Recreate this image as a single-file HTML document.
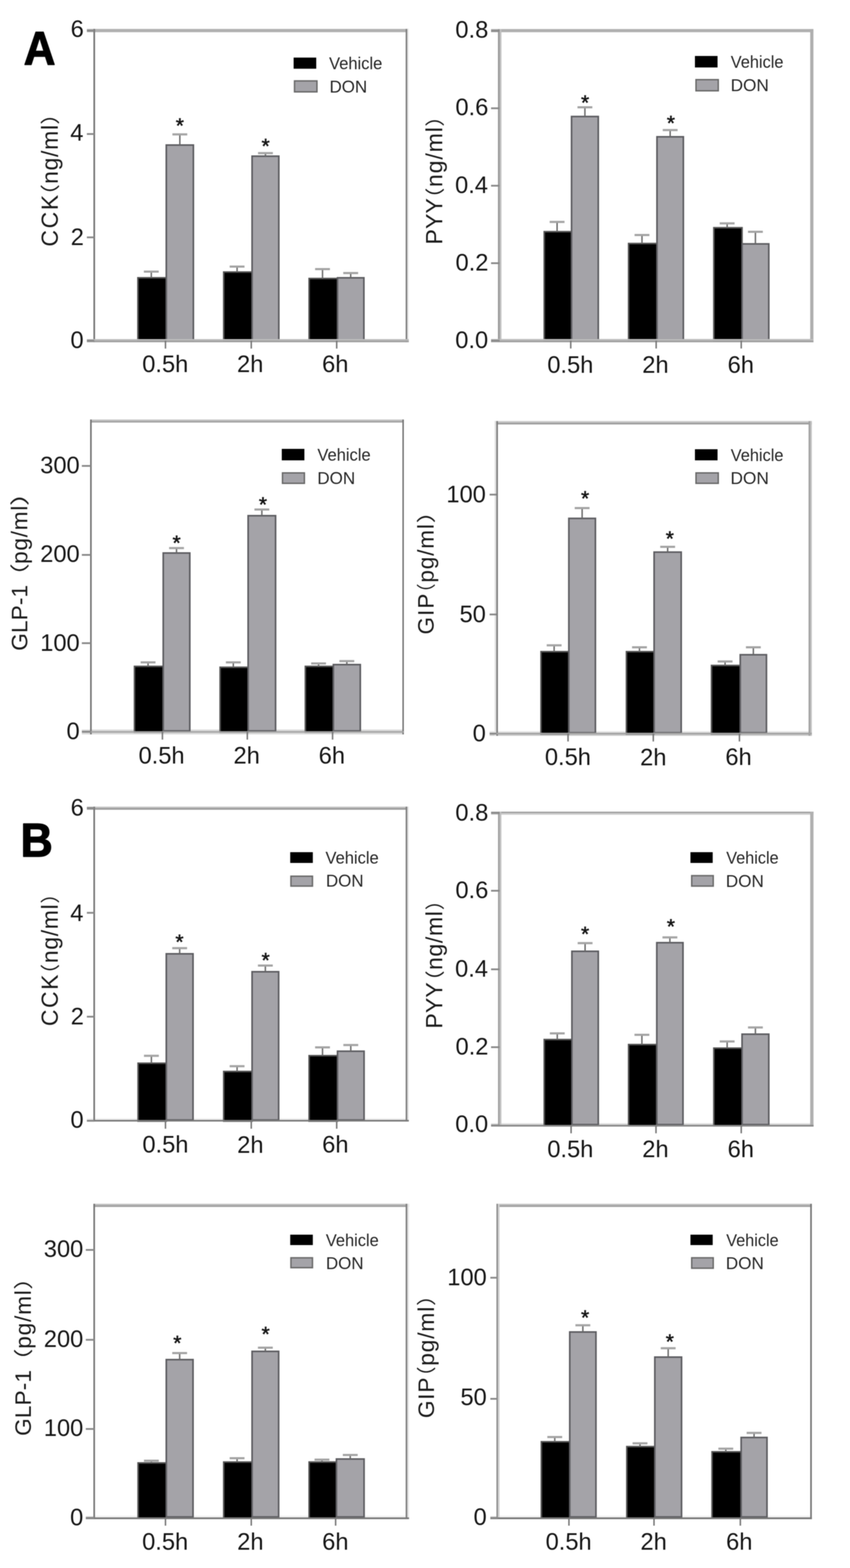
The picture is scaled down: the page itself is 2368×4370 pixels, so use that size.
<!DOCTYPE html>
<html><head><meta charset="utf-8"><title>Figure</title>
<style>html,body{margin:0;padding:0;background:#fff;}svg{display:block;}</style>
</head><body>
<svg width="2368" height="4370" viewBox="0 0 2368 4370" font-family="'Liberation Sans', Arial, Helvetica, sans-serif">
<defs><filter id="soft" filterUnits="userSpaceOnUse" x="0" y="0" width="2368" height="4370" color-interpolation-filters="sRGB"><feGaussianBlur stdDeviation="1.20"/></filter></defs><rect width="2368" height="4370" fill="#fff"/>
<g filter="url(#soft)">
<rect x="242.00" y="80.60" width="897.00" height="9.10" fill="#b0b0b0"/>
<rect x="242.00" y="945.00" width="897.00" height="4.40" fill="#bdbdbd"/>
<rect x="242.00" y="949.40" width="897.00" height="4.30" fill="#a0a0a0"/>
<rect x="260.20" y="80.60" width="4.70" height="873.10" fill="#777777"/>
<rect x="1130.10" y="80.60" width="4.70" height="873.10" fill="#808080"/>
<rect x="1134.80" y="80.60" width="4.20" height="873.10" fill="#ececec"/>
<rect x="384.20" y="774.20" width="79.00" height="176.10" fill="#000" stroke="#545454" stroke-width="4.40"/>
<rect x="463.25" y="404.25" width="75.50" height="543.00" fill="#a4a3a8" stroke="#5d5d61" stroke-width="4.50"/>
<rect x="623.20" y="758.20" width="79.00" height="192.10" fill="#000" stroke="#545454" stroke-width="4.40"/>
<rect x="702.25" y="435.25" width="74.50" height="512.00" fill="#a4a3a8" stroke="#5d5d61" stroke-width="4.50"/>
<rect x="861.20" y="776.20" width="79.00" height="174.10" fill="#000" stroke="#545454" stroke-width="4.40"/>
<rect x="940.25" y="774.25" width="73.50" height="173.00" fill="#a4a3a8" stroke="#5d5d61" stroke-width="4.50"/>
<line x1="421.50" y1="774.00" x2="421.50" y2="757.00" stroke="#6a6a6a" stroke-width="4.00"/>
<line x1="400.80" y1="757.00" x2="442.20" y2="757.00" stroke="#a4a4a4" stroke-width="6.00"/>
<line x1="501.00" y1="404.00" x2="501.00" y2="374.50" stroke="#6a6a6a" stroke-width="4.00"/>
<line x1="480.30" y1="374.50" x2="521.70" y2="374.50" stroke="#a4a4a4" stroke-width="6.00"/>
<line x1="660.50" y1="758.00" x2="660.50" y2="743.00" stroke="#6a6a6a" stroke-width="4.00"/>
<line x1="639.80" y1="743.00" x2="681.20" y2="743.00" stroke="#a4a4a4" stroke-width="6.00"/>
<line x1="739.50" y1="435.00" x2="739.50" y2="426.70" stroke="#6a6a6a" stroke-width="4.00"/>
<line x1="718.80" y1="426.70" x2="760.20" y2="426.70" stroke="#a4a4a4" stroke-width="6.00"/>
<line x1="898.50" y1="776.00" x2="898.50" y2="750.00" stroke="#6a6a6a" stroke-width="4.00"/>
<line x1="877.80" y1="750.00" x2="919.20" y2="750.00" stroke="#a4a4a4" stroke-width="6.00"/>
<line x1="977.00" y1="774.00" x2="977.00" y2="761.00" stroke="#6a6a6a" stroke-width="4.00"/>
<line x1="956.30" y1="761.00" x2="997.70" y2="761.00" stroke="#a4a4a4" stroke-width="6.00"/>
<rect x="242.00" y="945.00" width="897.00" height="4.40" fill="#bdbdbd"/>
<rect x="242.00" y="949.40" width="897.00" height="4.30" fill="#a0a0a0"/>
<line x1="242.00" y1="85.50" x2="262.50" y2="85.50" stroke="#8a8a8a" stroke-width="5.00"/>
<line x1="242.00" y1="373.50" x2="262.50" y2="373.50" stroke="#8a8a8a" stroke-width="5.00"/>
<line x1="242.00" y1="661.50" x2="262.50" y2="661.50" stroke="#8a8a8a" stroke-width="5.00"/>
<line x1="242.00" y1="949.50" x2="262.50" y2="949.50" stroke="#8a8a8a" stroke-width="5.00"/>
<line x1="461.00" y1="949.50" x2="461.00" y2="971.50" stroke="#787878" stroke-width="4.20"/>
<line x1="700.00" y1="949.50" x2="700.00" y2="971.50" stroke="#787878" stroke-width="4.20"/>
<line x1="938.00" y1="949.50" x2="938.00" y2="971.50" stroke="#787878" stroke-width="4.20"/>
<text x="196.69" y="102.72" font-size="66.00" fill="#151515">6</text>
<text x="195.73" y="392.20" font-size="66.00" fill="#151515">4</text>
<text x="197.11" y="683.04" font-size="66.00" fill="#151515">2</text>
<text x="196.37" y="969.72" font-size="66.00" fill="#151515">0</text>
<text x="396.13" y="1037.09" font-size="66.00" fill="#151515">0.5h</text>
<text x="660.28" y="1037.41" font-size="66.00" fill="#151515">2h</text>
<text x="897.26" y="1037.09" font-size="66.00" fill="#151515">6h</text>
<text x="489.70" y="369.72" font-size="58.00" fill="#151515" stroke="#151515" stroke-width="1.4">*</text>
<text x="728.70" y="427.47" font-size="58.00" fill="#151515" stroke="#151515" stroke-width="1.4">*</text>
<rect x="818.00" y="160.50" width="63.00" height="31.00" fill="#000"/>
<rect x="820.50" y="225.50" width="62.50" height="30.50" fill="#a4a3a8" stroke="#6a6a6a" stroke-width="4.00"/>
<text x="916.78" y="193.01" font-size="49.00" fill="#262626" textLength="148.39" lengthAdjust="spacingAndGlyphs">Vehicle</text>
<text x="917.98" y="257.62" font-size="49.00" fill="#262626" textLength="105.02" lengthAdjust="spacingAndGlyphs">DON</text>
<text transform="translate(160.60 687.25) rotate(-90)" x="0" y="0" font-size="63.95" fill="#1a1a1a" textLength="144.07" lengthAdjust="spacing">CCK</text>
<text transform="translate(160.60 512.55) rotate(-90)" x="0" y="0" font-size="63.95" fill="#1a1a1a" textLength="164.43" lengthAdjust="spacing">ng/ml</text>
<text transform="translate(159.36 577.41) rotate(-90)" x="0" y="0" font-family="'Liberation Sans', 'Noto Sans CJK SC', sans-serif" font-size="54.62" fill="#1a1a1a" textLength="64.48" lengthAdjust="spacingAndGlyphs">（</text>
<text transform="translate(159.36 347.62) rotate(-90)" x="0" y="0" font-family="'Liberation Sans', 'Noto Sans CJK SC', sans-serif" font-size="54.62" fill="#1a1a1a" textLength="61.39" lengthAdjust="spacingAndGlyphs">）</text>
<rect x="1368.00" y="80.90" width="898.10" height="8.90" fill="#b0b0b0"/>
<rect x="1368.00" y="944.80" width="898.10" height="4.50" fill="#bdbdbd"/>
<rect x="1368.00" y="949.30" width="898.10" height="4.50" fill="#a0a0a0"/>
<rect x="1387.20" y="80.90" width="4.80" height="872.90" fill="#999999"/>
<rect x="1392.00" y="80.90" width="4.90" height="872.90" fill="#c0c0c0"/>
<rect x="2257.10" y="80.90" width="9.00" height="872.90" fill="#afafaf"/>
<rect x="1516.20" y="645.70" width="76.00" height="304.40" fill="#000" stroke="#545454" stroke-width="4.40"/>
<rect x="1592.25" y="324.75" width="74.50" height="622.30" fill="#a4a3a8" stroke="#5d5d61" stroke-width="4.50"/>
<rect x="1751.20" y="678.70" width="79.00" height="271.40" fill="#000" stroke="#545454" stroke-width="4.40"/>
<rect x="1830.25" y="381.25" width="73.50" height="565.80" fill="#a4a3a8" stroke="#5d5d61" stroke-width="4.50"/>
<rect x="1988.70" y="634.70" width="78.50" height="315.40" fill="#000" stroke="#545454" stroke-width="4.40"/>
<rect x="2067.25" y="679.75" width="74.50" height="267.30" fill="#a4a3a8" stroke="#5d5d61" stroke-width="4.50"/>
<line x1="1552.00" y1="645.50" x2="1552.00" y2="618.50" stroke="#6a6a6a" stroke-width="4.00"/>
<line x1="1531.30" y1="618.50" x2="1572.70" y2="618.50" stroke="#a4a4a4" stroke-width="6.00"/>
<line x1="1629.50" y1="324.50" x2="1629.50" y2="299.00" stroke="#6a6a6a" stroke-width="4.00"/>
<line x1="1608.80" y1="299.00" x2="1650.20" y2="299.00" stroke="#a4a4a4" stroke-width="6.00"/>
<line x1="1788.50" y1="678.50" x2="1788.50" y2="655.00" stroke="#6a6a6a" stroke-width="4.00"/>
<line x1="1767.80" y1="655.00" x2="1809.20" y2="655.00" stroke="#a4a4a4" stroke-width="6.00"/>
<line x1="1867.00" y1="381.00" x2="1867.00" y2="362.50" stroke="#6a6a6a" stroke-width="4.00"/>
<line x1="1846.30" y1="362.50" x2="1887.70" y2="362.50" stroke="#a4a4a4" stroke-width="6.00"/>
<line x1="2025.75" y1="634.50" x2="2025.75" y2="622.50" stroke="#6a6a6a" stroke-width="4.00"/>
<line x1="2005.05" y1="622.50" x2="2046.45" y2="622.50" stroke="#a4a4a4" stroke-width="6.00"/>
<line x1="2104.50" y1="679.50" x2="2104.50" y2="646.00" stroke="#6a6a6a" stroke-width="4.00"/>
<line x1="2083.80" y1="646.00" x2="2125.20" y2="646.00" stroke="#a4a4a4" stroke-width="6.00"/>
<rect x="1368.00" y="944.80" width="898.10" height="4.50" fill="#bdbdbd"/>
<rect x="1368.00" y="949.30" width="898.10" height="4.50" fill="#a0a0a0"/>
<line x1="1368.00" y1="86.00" x2="1392.00" y2="86.00" stroke="#8a8a8a" stroke-width="5.00"/>
<line x1="1368.00" y1="301.80" x2="1392.00" y2="301.80" stroke="#8a8a8a" stroke-width="5.00"/>
<line x1="1368.00" y1="517.60" x2="1392.00" y2="517.60" stroke="#8a8a8a" stroke-width="5.00"/>
<line x1="1368.00" y1="733.50" x2="1392.00" y2="733.50" stroke="#8a8a8a" stroke-width="5.00"/>
<line x1="1368.00" y1="949.30" x2="1392.00" y2="949.30" stroke="#8a8a8a" stroke-width="5.00"/>
<line x1="1590.00" y1="949.30" x2="1590.00" y2="971.30" stroke="#787878" stroke-width="4.20"/>
<line x1="1828.00" y1="949.30" x2="1828.00" y2="971.30" stroke="#787878" stroke-width="4.20"/>
<line x1="2065.00" y1="949.30" x2="2065.00" y2="971.30" stroke="#787878" stroke-width="4.20"/>
<text x="1268.62" y="105.22" font-size="66.00" fill="#151515">0.8</text>
<text x="1268.65" y="321.47" font-size="66.00" fill="#151515">0.6</text>
<text x="1267.68" y="537.72" font-size="66.00" fill="#151515">0.4</text>
<text x="1269.07" y="753.97" font-size="66.00" fill="#151515">0.2</text>
<text x="1268.33" y="970.22" font-size="66.00" fill="#151515">0.0</text>
<text x="1524.63" y="1038.59" font-size="66.00" fill="#151515">0.5h</text>
<text x="1789.28" y="1038.91" font-size="66.00" fill="#151515">2h</text>
<text x="2027.01" y="1038.59" font-size="66.00" fill="#151515">6h</text>
<text x="1618.70" y="305.97" font-size="58.00" fill="#151515" stroke="#151515" stroke-width="1.4">*</text>
<text x="1857.70" y="363.47" font-size="58.00" fill="#151515" stroke="#151515" stroke-width="1.4">*</text>
<rect x="1936.00" y="156.00" width="63.00" height="32.00" fill="#000"/>
<rect x="1939.00" y="222.00" width="62.00" height="31.00" fill="#a4a3a8" stroke="#6a6a6a" stroke-width="4.00"/>
<text x="2035.78" y="189.26" font-size="49.00" fill="#262626" textLength="146.89" lengthAdjust="spacingAndGlyphs">Vehicle</text>
<text x="2035.48" y="254.37" font-size="49.00" fill="#262626" textLength="106.52" lengthAdjust="spacingAndGlyphs">DON</text>
<text transform="translate(1231.90 681.47) rotate(-90)" x="0" y="0" font-size="64.24" fill="#1a1a1a" textLength="129.08" lengthAdjust="spacing">PYY</text>
<text transform="translate(1231.90 521.17) rotate(-90)" x="0" y="0" font-size="64.24" fill="#1a1a1a" textLength="167.06" lengthAdjust="spacing">ng/ml</text>
<text transform="translate(1230.64 582.52) rotate(-90)" x="0" y="0" font-family="'Liberation Sans', 'Noto Sans CJK SC', sans-serif" font-size="54.83" fill="#1a1a1a" textLength="59.46" lengthAdjust="spacingAndGlyphs">（</text>
<text transform="translate(1230.64 352.94) rotate(-90)" x="0" y="0" font-family="'Liberation Sans', 'Noto Sans CJK SC', sans-serif" font-size="54.83" fill="#1a1a1a" textLength="59.46" lengthAdjust="spacingAndGlyphs">）</text>
<rect x="251.00" y="1169.20" width="874.10" height="4.30" fill="#c0c0c0"/>
<rect x="251.00" y="1173.50" width="874.10" height="4.00" fill="#9c9c9c"/>
<rect x="228.00" y="2033.20" width="897.10" height="4.60" fill="#d8d8d8"/>
<rect x="228.00" y="2037.80" width="897.10" height="4.00" fill="#a4a4a4"/>
<rect x="228.00" y="2041.80" width="897.10" height="4.90" fill="#d8d8d8"/>
<rect x="251.00" y="1169.20" width="4.50" height="877.50" fill="#747474"/>
<rect x="1121.00" y="1169.20" width="4.10" height="877.50" fill="#747474"/>
<rect x="374.70" y="1857.20" width="80.00" height="182.90" fill="#000" stroke="#545454" stroke-width="4.40"/>
<rect x="454.75" y="1541.25" width="74.00" height="495.80" fill="#a4a3a8" stroke="#5d5d61" stroke-width="4.50"/>
<rect x="613.20" y="1859.70" width="78.00" height="180.40" fill="#000" stroke="#545454" stroke-width="4.40"/>
<rect x="691.25" y="1437.25" width="76.50" height="599.80" fill="#a4a3a8" stroke="#5d5d61" stroke-width="4.50"/>
<rect x="850.70" y="1857.20" width="78.00" height="182.90" fill="#000" stroke="#545454" stroke-width="4.40"/>
<rect x="928.75" y="1852.25" width="75.00" height="184.80" fill="#a4a3a8" stroke="#5d5d61" stroke-width="4.50"/>
<line x1="412.50" y1="1857.00" x2="412.50" y2="1846.00" stroke="#6a6a6a" stroke-width="4.00"/>
<line x1="391.80" y1="1846.00" x2="433.20" y2="1846.00" stroke="#a4a4a4" stroke-width="6.00"/>
<line x1="491.75" y1="1541.00" x2="491.75" y2="1527.50" stroke="#6a6a6a" stroke-width="4.00"/>
<line x1="471.05" y1="1527.50" x2="512.45" y2="1527.50" stroke="#a4a4a4" stroke-width="6.00"/>
<line x1="650.00" y1="1859.50" x2="650.00" y2="1846.00" stroke="#6a6a6a" stroke-width="4.00"/>
<line x1="629.30" y1="1846.00" x2="670.70" y2="1846.00" stroke="#a4a4a4" stroke-width="6.00"/>
<line x1="729.50" y1="1437.00" x2="729.50" y2="1420.00" stroke="#6a6a6a" stroke-width="4.00"/>
<line x1="708.80" y1="1420.00" x2="750.20" y2="1420.00" stroke="#a4a4a4" stroke-width="6.00"/>
<line x1="887.50" y1="1857.00" x2="887.50" y2="1849.00" stroke="#6a6a6a" stroke-width="4.00"/>
<line x1="866.80" y1="1849.00" x2="908.20" y2="1849.00" stroke="#a4a4a4" stroke-width="6.00"/>
<line x1="966.25" y1="1852.00" x2="966.25" y2="1842.50" stroke="#6a6a6a" stroke-width="4.00"/>
<line x1="945.55" y1="1842.50" x2="986.95" y2="1842.50" stroke="#a4a4a4" stroke-width="6.00"/>
<rect x="228.00" y="2037.80" width="897.10" height="4.00" fill="#a4a4a4"/>
<line x1="228.00" y1="1298.50" x2="253.20" y2="1298.50" stroke="#8a8a8a" stroke-width="5.00"/>
<line x1="228.00" y1="1546.50" x2="253.20" y2="1546.50" stroke="#8a8a8a" stroke-width="5.00"/>
<line x1="228.00" y1="1792.50" x2="253.20" y2="1792.50" stroke="#8a8a8a" stroke-width="5.00"/>
<line x1="228.00" y1="2039.30" x2="253.20" y2="2039.30" stroke="#8a8a8a" stroke-width="5.00"/>
<line x1="452.50" y1="2039.30" x2="452.50" y2="2061.30" stroke="#787878" stroke-width="4.20"/>
<line x1="689.00" y1="2039.30" x2="689.00" y2="2061.30" stroke="#787878" stroke-width="4.20"/>
<line x1="926.50" y1="2039.30" x2="926.50" y2="2061.30" stroke="#787878" stroke-width="4.20"/>
<text x="111.96" y="1318.97" font-size="66.00" fill="#151515">300</text>
<text x="111.96" y="1566.47" font-size="66.00" fill="#151515">200</text>
<text x="111.96" y="1813.72" font-size="66.00" fill="#151515">100</text>
<text x="185.37" y="2060.22" font-size="66.00" fill="#151515">0</text>
<text x="385.88" y="2128.09" font-size="66.00" fill="#151515">0.5h</text>
<text x="650.53" y="2128.41" font-size="66.00" fill="#151515">2h</text>
<text x="887.76" y="2128.09" font-size="66.00" fill="#151515">6h</text>
<text x="480.70" y="1532.72" font-size="58.00" fill="#151515" stroke="#151515" stroke-width="1.4">*</text>
<text x="721.20" y="1425.97" font-size="58.00" fill="#151515" stroke="#151515" stroke-width="1.4">*</text>
<rect x="785.00" y="1251.00" width="63.00" height="32.00" fill="#000"/>
<rect x="787.00" y="1318.00" width="61.00" height="29.00" fill="#a4a3a8" stroke="#6a6a6a" stroke-width="4.00"/>
<text x="884.28" y="1284.26" font-size="49.00" fill="#262626" textLength="148.39" lengthAdjust="spacingAndGlyphs">Vehicle</text>
<text x="883.98" y="1349.37" font-size="49.00" fill="#262626" textLength="105.52" lengthAdjust="spacingAndGlyphs">DON</text>
<text transform="translate(76.00 1813.68) rotate(-90)" x="0" y="0" font-size="63.23" fill="#1a1a1a" textLength="183.67" lengthAdjust="spacing">GLP-1</text>
<text transform="translate(76.00 1571.68) rotate(-90)" x="0" y="0" font-size="63.23" fill="#1a1a1a" textLength="162.40" lengthAdjust="spacing">pg/ml</text>
<text transform="translate(74.81 1641.07) rotate(-90)" x="0" y="0" font-family="'Liberation Sans', 'Noto Sans CJK SC', sans-serif" font-size="54.10" fill="#1a1a1a" textLength="71.04" lengthAdjust="spacingAndGlyphs">（</text>
<text transform="translate(74.81 1410.49) rotate(-90)" x="0" y="0" font-family="'Liberation Sans', 'Noto Sans CJK SC', sans-serif" font-size="54.10" fill="#1a1a1a" textLength="77.99" lengthAdjust="spacingAndGlyphs">）</text>
<rect x="1378.00" y="1173.50" width="883.60" height="4.50" fill="#c8c8c8"/>
<rect x="1378.00" y="1178.00" width="883.60" height="5.00" fill="#a0a0a0"/>
<rect x="1364.00" y="2037.80" width="897.60" height="4.30" fill="#e4e4e4"/>
<rect x="1364.00" y="2042.10" width="897.60" height="4.60" fill="#a4a4a4"/>
<rect x="1364.00" y="2046.70" width="897.60" height="4.00" fill="#c8c8c8"/>
<rect x="1378.00" y="1173.50" width="4.70" height="877.20" fill="#e0e0e0"/>
<rect x="1382.70" y="1173.50" width="4.50" height="877.20" fill="#7c7c7c"/>
<rect x="2252.60" y="1173.50" width="4.40" height="877.20" fill="#a0a0a0"/>
<rect x="2257.00" y="1173.50" width="4.60" height="877.20" fill="#c0c0c0"/>
<rect x="1507.20" y="1816.20" width="77.50" height="229.10" fill="#000" stroke="#545454" stroke-width="4.40"/>
<rect x="1584.75" y="1444.75" width="74.00" height="597.50" fill="#a4a3a8" stroke="#5d5d61" stroke-width="4.50"/>
<rect x="1745.20" y="1816.20" width="77.00" height="229.10" fill="#000" stroke="#545454" stroke-width="4.40"/>
<rect x="1822.25" y="1538.75" width="75.50" height="503.50" fill="#a4a3a8" stroke="#5d5d61" stroke-width="4.50"/>
<rect x="1982.20" y="1854.70" width="80.00" height="190.60" fill="#000" stroke="#545454" stroke-width="4.40"/>
<rect x="2062.25" y="1824.75" width="73.00" height="217.50" fill="#a4a3a8" stroke="#5d5d61" stroke-width="4.50"/>
<line x1="1543.75" y1="1816.00" x2="1543.75" y2="1798.50" stroke="#6a6a6a" stroke-width="4.00"/>
<line x1="1523.05" y1="1798.50" x2="1564.45" y2="1798.50" stroke="#a4a4a4" stroke-width="6.00"/>
<line x1="1621.75" y1="1444.50" x2="1621.75" y2="1416.00" stroke="#6a6a6a" stroke-width="4.00"/>
<line x1="1601.05" y1="1416.00" x2="1642.45" y2="1416.00" stroke="#a4a4a4" stroke-width="6.00"/>
<line x1="1781.50" y1="1816.00" x2="1781.50" y2="1804.00" stroke="#6a6a6a" stroke-width="4.00"/>
<line x1="1760.80" y1="1804.00" x2="1802.20" y2="1804.00" stroke="#a4a4a4" stroke-width="6.00"/>
<line x1="1860.00" y1="1538.50" x2="1860.00" y2="1524.00" stroke="#6a6a6a" stroke-width="4.00"/>
<line x1="1839.30" y1="1524.00" x2="1880.70" y2="1524.00" stroke="#a4a4a4" stroke-width="6.00"/>
<line x1="2020.00" y1="1854.50" x2="2020.00" y2="1843.50" stroke="#6a6a6a" stroke-width="4.00"/>
<line x1="1999.30" y1="1843.50" x2="2040.70" y2="1843.50" stroke="#a4a4a4" stroke-width="6.00"/>
<line x1="2098.75" y1="1824.50" x2="2098.75" y2="1804.00" stroke="#6a6a6a" stroke-width="4.00"/>
<line x1="2078.05" y1="1804.00" x2="2119.45" y2="1804.00" stroke="#a4a4a4" stroke-width="6.00"/>
<rect x="1364.00" y="2042.10" width="897.60" height="4.60" fill="#a4a4a4"/>
<line x1="1364.00" y1="1378.50" x2="1383.00" y2="1378.50" stroke="#8a8a8a" stroke-width="5.00"/>
<line x1="1364.00" y1="1712.50" x2="1383.00" y2="1712.50" stroke="#8a8a8a" stroke-width="5.00"/>
<line x1="1364.00" y1="2044.50" x2="1383.00" y2="2044.50" stroke="#8a8a8a" stroke-width="5.00"/>
<line x1="1582.50" y1="2044.50" x2="1582.50" y2="2066.50" stroke="#787878" stroke-width="4.20"/>
<line x1="1820.00" y1="2044.50" x2="1820.00" y2="2066.50" stroke="#787878" stroke-width="4.20"/>
<line x1="2060.00" y1="2044.50" x2="2060.00" y2="2066.50" stroke="#787878" stroke-width="4.20"/>
<text x="1243.46" y="1400.22" font-size="66.00" fill="#151515">100</text>
<text x="1280.17" y="1733.72" font-size="66.00" fill="#151515">50</text>
<text x="1316.87" y="2066.47" font-size="66.00" fill="#151515">0</text>
<text x="1517.88" y="2132.34" font-size="66.00" fill="#151515">0.5h</text>
<text x="1783.28" y="2132.66" font-size="66.00" fill="#151515">2h</text>
<text x="2020.76" y="2132.34" font-size="66.00" fill="#151515">6h</text>
<text x="1618.70" y="1408.72" font-size="58.00" fill="#151515" stroke="#151515" stroke-width="1.4">*</text>
<text x="1854.70" y="1521.22" font-size="58.00" fill="#151515" stroke="#151515" stroke-width="1.4">*</text>
<rect x="1936.00" y="1252.00" width="63.00" height="31.00" fill="#000"/>
<rect x="1939.00" y="1318.00" width="62.00" height="29.00" fill="#a4a3a8" stroke="#6a6a6a" stroke-width="4.00"/>
<text x="2035.78" y="1285.01" font-size="49.00" fill="#262626" textLength="146.89" lengthAdjust="spacingAndGlyphs">Vehicle</text>
<text x="2034.98" y="1348.87" font-size="49.00" fill="#262626" textLength="107.02" lengthAdjust="spacingAndGlyphs">DON</text>
<text transform="translate(1207.90 1768.25) rotate(-90)" x="0" y="0" font-size="62.65" fill="#1a1a1a" textLength="113.85" lengthAdjust="spacing">GIP</text>
<text transform="translate(1207.90 1623.74) rotate(-90)" x="0" y="0" font-size="62.65" fill="#1a1a1a" textLength="163.13" lengthAdjust="spacing">pg/ml</text>
<text transform="translate(1206.75 1679.13) rotate(-90)" x="0" y="0" font-family="'Liberation Sans', 'Noto Sans CJK SC', sans-serif" font-size="53.68" fill="#1a1a1a" textLength="53.28" lengthAdjust="spacingAndGlyphs">（</text>
<text transform="translate(1206.75 1458.68) rotate(-90)" x="0" y="0" font-family="'Liberation Sans', 'Noto Sans CJK SC', sans-serif" font-size="53.68" fill="#1a1a1a" textLength="69.11" lengthAdjust="spacingAndGlyphs">）</text>
<rect x="242.00" y="2248.10" width="897.00" height="4.00" fill="#c0c0c0"/>
<rect x="242.00" y="2252.10" width="897.00" height="4.60" fill="#9a9a9a"/>
<rect x="242.00" y="3116.60" width="897.00" height="4.60" fill="#eeeeee"/>
<rect x="242.00" y="3121.20" width="897.00" height="4.30" fill="#7a7a7a"/>
<rect x="260.10" y="2248.10" width="4.60" height="877.40" fill="#777777"/>
<rect x="1130.10" y="2248.10" width="4.70" height="877.40" fill="#808080"/>
<rect x="1134.80" y="2248.10" width="4.20" height="877.40" fill="#e6e6e6"/>
<rect x="384.70" y="2963.20" width="78.50" height="161.30" fill="#000" stroke="#545454" stroke-width="4.40"/>
<rect x="463.25" y="2658.25" width="74.50" height="463.20" fill="#a4a3a8" stroke="#5d5d61" stroke-width="4.50"/>
<rect x="623.20" y="2986.20" width="79.00" height="138.30" fill="#000" stroke="#545454" stroke-width="4.40"/>
<rect x="702.25" y="2708.25" width="74.00" height="413.20" fill="#a4a3a8" stroke="#5d5d61" stroke-width="4.50"/>
<rect x="861.20" y="2942.20" width="79.00" height="182.30" fill="#000" stroke="#545454" stroke-width="4.40"/>
<rect x="940.25" y="2929.75" width="74.00" height="191.70" fill="#a4a3a8" stroke="#5d5d61" stroke-width="4.50"/>
<line x1="421.75" y1="2963.00" x2="421.75" y2="2942.50" stroke="#6a6a6a" stroke-width="4.00"/>
<line x1="401.05" y1="2942.50" x2="442.45" y2="2942.50" stroke="#a4a4a4" stroke-width="6.00"/>
<line x1="500.50" y1="2658.00" x2="500.50" y2="2642.50" stroke="#6a6a6a" stroke-width="4.00"/>
<line x1="479.80" y1="2642.50" x2="521.20" y2="2642.50" stroke="#a4a4a4" stroke-width="6.00"/>
<line x1="660.50" y1="2986.00" x2="660.50" y2="2971.50" stroke="#6a6a6a" stroke-width="4.00"/>
<line x1="639.80" y1="2971.50" x2="681.20" y2="2971.50" stroke="#a4a4a4" stroke-width="6.00"/>
<line x1="739.25" y1="2708.00" x2="739.25" y2="2691.00" stroke="#6a6a6a" stroke-width="4.00"/>
<line x1="718.55" y1="2691.00" x2="759.95" y2="2691.00" stroke="#a4a4a4" stroke-width="6.00"/>
<line x1="898.50" y1="2942.00" x2="898.50" y2="2919.00" stroke="#6a6a6a" stroke-width="4.00"/>
<line x1="877.80" y1="2919.00" x2="919.20" y2="2919.00" stroke="#a4a4a4" stroke-width="6.00"/>
<line x1="977.25" y1="2929.50" x2="977.25" y2="2912.50" stroke="#6a6a6a" stroke-width="4.00"/>
<line x1="956.55" y1="2912.50" x2="997.95" y2="2912.50" stroke="#a4a4a4" stroke-width="6.00"/>
<rect x="242.00" y="3121.20" width="897.00" height="4.30" fill="#7a7a7a"/>
<line x1="242.00" y1="2252.00" x2="262.50" y2="2252.00" stroke="#8a8a8a" stroke-width="5.00"/>
<line x1="242.00" y1="2544.00" x2="262.50" y2="2544.00" stroke="#8a8a8a" stroke-width="5.00"/>
<line x1="242.00" y1="2833.50" x2="262.50" y2="2833.50" stroke="#8a8a8a" stroke-width="5.00"/>
<line x1="242.00" y1="3123.70" x2="262.50" y2="3123.70" stroke="#8a8a8a" stroke-width="5.00"/>
<line x1="461.00" y1="3123.70" x2="461.00" y2="3145.70" stroke="#787878" stroke-width="4.20"/>
<line x1="700.00" y1="3123.70" x2="700.00" y2="3145.70" stroke="#787878" stroke-width="4.20"/>
<line x1="938.00" y1="3123.70" x2="938.00" y2="3145.70" stroke="#787878" stroke-width="4.20"/>
<text x="196.69" y="2273.22" font-size="66.00" fill="#151515">6</text>
<text x="195.73" y="2566.70" font-size="66.00" fill="#151515">4</text>
<text x="197.11" y="2854.79" font-size="66.00" fill="#151515">2</text>
<text x="196.37" y="3142.72" font-size="66.00" fill="#151515">0</text>
<text x="396.63" y="3212.34" font-size="66.00" fill="#151515">0.5h</text>
<text x="660.78" y="3212.66" font-size="66.00" fill="#151515">2h</text>
<text x="897.51" y="3212.34" font-size="66.00" fill="#151515">6h</text>
<text x="488.70" y="2644.72" font-size="58.00" fill="#151515" stroke="#151515" stroke-width="1.4">*</text>
<text x="728.70" y="2696.47" font-size="58.00" fill="#151515" stroke="#151515" stroke-width="1.4">*</text>
<rect x="808.50" y="2375.00" width="63.00" height="30.00" fill="#000"/>
<rect x="810.50" y="2442.00" width="60.00" height="27.50" fill="#a4a3a8" stroke="#6a6a6a" stroke-width="4.00"/>
<text x="906.78" y="2407.01" font-size="49.00" fill="#262626" textLength="148.39" lengthAdjust="spacingAndGlyphs">Vehicle</text>
<text x="907.98" y="2471.37" font-size="49.00" fill="#262626" textLength="105.02" lengthAdjust="spacingAndGlyphs">DON</text>
<text transform="translate(160.60 2859.75) rotate(-90)" x="0" y="0" font-size="63.95" fill="#1a1a1a" textLength="143.57" lengthAdjust="spacing">CCK</text>
<text transform="translate(160.60 2684.15) rotate(-90)" x="0" y="0" font-size="63.95" fill="#1a1a1a" textLength="163.83" lengthAdjust="spacing">ng/ml</text>
<text transform="translate(159.36 2744.89) rotate(-90)" x="0" y="0" font-family="'Liberation Sans', 'Noto Sans CJK SC', sans-serif" font-size="54.62" fill="#1a1a1a" textLength="58.69" lengthAdjust="spacingAndGlyphs">（</text>
<text transform="translate(159.36 2518.16) rotate(-90)" x="0" y="0" font-family="'Liberation Sans', 'Noto Sans CJK SC', sans-serif" font-size="54.62" fill="#1a1a1a" textLength="55.60" lengthAdjust="spacingAndGlyphs">）</text>
<rect x="1368.00" y="2262.10" width="898.30" height="4.00" fill="#9e9e9e"/>
<rect x="1368.00" y="2266.10" width="898.30" height="4.60" fill="#cccccc"/>
<rect x="1368.00" y="3130.70" width="898.30" height="4.30" fill="#d8d8d8"/>
<rect x="1368.00" y="3135.00" width="898.30" height="4.50" fill="#888888"/>
<rect x="1387.50" y="2262.10" width="4.30" height="877.40" fill="#9a9a9a"/>
<rect x="1391.80" y="2262.10" width="4.90" height="877.40" fill="#c0c0c0"/>
<rect x="2257.10" y="2262.10" width="9.20" height="877.40" fill="#b0b0b0"/>
<rect x="1516.20" y="2897.20" width="77.00" height="240.10" fill="#000" stroke="#545454" stroke-width="4.40"/>
<rect x="1593.25" y="2651.25" width="73.50" height="483.00" fill="#a4a3a8" stroke="#5d5d61" stroke-width="4.50"/>
<rect x="1751.20" y="2911.20" width="78.50" height="226.10" fill="#000" stroke="#545454" stroke-width="4.40"/>
<rect x="1829.75" y="2627.25" width="73.00" height="507.00" fill="#a4a3a8" stroke="#5d5d61" stroke-width="4.50"/>
<rect x="1988.70" y="2921.20" width="78.50" height="216.10" fill="#000" stroke="#545454" stroke-width="4.40"/>
<rect x="2067.25" y="2882.25" width="74.50" height="252.00" fill="#a4a3a8" stroke="#5d5d61" stroke-width="4.50"/>
<line x1="1552.50" y1="2897.00" x2="1552.50" y2="2880.00" stroke="#6a6a6a" stroke-width="4.00"/>
<line x1="1531.80" y1="2880.00" x2="1573.20" y2="2880.00" stroke="#a4a4a4" stroke-width="6.00"/>
<line x1="1630.00" y1="2651.00" x2="1630.00" y2="2628.50" stroke="#6a6a6a" stroke-width="4.00"/>
<line x1="1609.30" y1="2628.50" x2="1650.70" y2="2628.50" stroke="#a4a4a4" stroke-width="6.00"/>
<line x1="1788.25" y1="2911.00" x2="1788.25" y2="2884.00" stroke="#6a6a6a" stroke-width="4.00"/>
<line x1="1767.55" y1="2884.00" x2="1808.95" y2="2884.00" stroke="#a4a4a4" stroke-width="6.00"/>
<line x1="1866.25" y1="2627.00" x2="1866.25" y2="2612.50" stroke="#6a6a6a" stroke-width="4.00"/>
<line x1="1845.55" y1="2612.50" x2="1886.95" y2="2612.50" stroke="#a4a4a4" stroke-width="6.00"/>
<line x1="2025.75" y1="2921.00" x2="2025.75" y2="2902.50" stroke="#6a6a6a" stroke-width="4.00"/>
<line x1="2005.05" y1="2902.50" x2="2046.45" y2="2902.50" stroke="#a4a4a4" stroke-width="6.00"/>
<line x1="2104.50" y1="2882.00" x2="2104.50" y2="2863.50" stroke="#6a6a6a" stroke-width="4.00"/>
<line x1="2083.80" y1="2863.50" x2="2125.20" y2="2863.50" stroke="#a4a4a4" stroke-width="6.00"/>
<rect x="1368.00" y="3135.00" width="898.30" height="4.50" fill="#888888"/>
<line x1="1368.00" y1="2265.70" x2="1392.00" y2="2265.70" stroke="#8a8a8a" stroke-width="5.00"/>
<line x1="1368.00" y1="2482.50" x2="1392.00" y2="2482.50" stroke="#8a8a8a" stroke-width="5.00"/>
<line x1="1368.00" y1="2701.50" x2="1392.00" y2="2701.50" stroke="#8a8a8a" stroke-width="5.00"/>
<line x1="1368.00" y1="2918.50" x2="1392.00" y2="2918.50" stroke="#8a8a8a" stroke-width="5.00"/>
<line x1="1368.00" y1="3136.50" x2="1392.00" y2="3136.50" stroke="#8a8a8a" stroke-width="5.00"/>
<line x1="1591.00" y1="3136.50" x2="1591.00" y2="3158.50" stroke="#787878" stroke-width="4.20"/>
<line x1="1827.50" y1="3136.50" x2="1827.50" y2="3158.50" stroke="#787878" stroke-width="4.20"/>
<line x1="2065.00" y1="3136.50" x2="2065.00" y2="3158.50" stroke="#787878" stroke-width="4.20"/>
<text x="1268.62" y="2286.72" font-size="66.00" fill="#151515">0.8</text>
<text x="1268.65" y="2503.22" font-size="66.00" fill="#151515">0.6</text>
<text x="1267.68" y="2722.22" font-size="66.00" fill="#151515">0.4</text>
<text x="1269.07" y="2938.97" font-size="66.00" fill="#151515">0.2</text>
<text x="1268.33" y="3155.22" font-size="66.00" fill="#151515">0.0</text>
<text x="1524.63" y="3224.84" font-size="66.00" fill="#151515">0.5h</text>
<text x="1789.28" y="3225.16" font-size="66.00" fill="#151515">2h</text>
<text x="2027.01" y="3224.84" font-size="66.00" fill="#151515">6h</text>
<text x="1618.70" y="2623.47" font-size="58.00" fill="#151515" stroke="#151515" stroke-width="1.4">*</text>
<text x="1857.70" y="2602.22" font-size="58.00" fill="#151515" stroke="#151515" stroke-width="1.4">*</text>
<rect x="1923.50" y="2375.00" width="62.00" height="30.00" fill="#000"/>
<rect x="1927.00" y="2440.50" width="60.00" height="29.00" fill="#a4a3a8" stroke="#6a6a6a" stroke-width="4.00"/>
<text x="2023.28" y="2407.01" font-size="49.00" fill="#262626" textLength="145.89" lengthAdjust="spacingAndGlyphs">Vehicle</text>
<text x="2021.98" y="2471.87" font-size="49.00" fill="#262626" textLength="106.02" lengthAdjust="spacingAndGlyphs">DON</text>
<text transform="translate(1231.90 2866.67) rotate(-90)" x="0" y="0" font-size="64.24" fill="#1a1a1a" textLength="129.08" lengthAdjust="spacing">PYY</text>
<text transform="translate(1231.90 2703.37) rotate(-90)" x="0" y="0" font-size="64.24" fill="#1a1a1a" textLength="164.16" lengthAdjust="spacing">ng/ml</text>
<text transform="translate(1230.64 2764.02) rotate(-90)" x="0" y="0" font-family="'Liberation Sans', 'Noto Sans CJK SC', sans-serif" font-size="54.83" fill="#1a1a1a" textLength="59.46" lengthAdjust="spacingAndGlyphs">（</text>
<text transform="translate(1230.64 2536.39) rotate(-90)" x="0" y="0" font-family="'Liberation Sans', 'Noto Sans CJK SC', sans-serif" font-size="54.83" fill="#1a1a1a" textLength="54.05" lengthAdjust="spacingAndGlyphs">）</text>
<rect x="260.10" y="3354.90" width="879.30" height="4.00" fill="#bebebe"/>
<rect x="260.10" y="3358.90" width="879.30" height="4.90" fill="#a0a0a0"/>
<rect x="239.00" y="4224.40" width="900.40" height="4.60" fill="#f0f0f0"/>
<rect x="239.00" y="4229.00" width="900.40" height="4.80" fill="#7a7a7a"/>
<rect x="260.10" y="3354.90" width="4.60" height="878.90" fill="#777777"/>
<rect x="1130.10" y="3354.90" width="4.70" height="878.90" fill="#808080"/>
<rect x="1134.80" y="3354.90" width="4.60" height="878.90" fill="#e6e6e6"/>
<rect x="384.70" y="4077.20" width="78.50" height="153.60" fill="#000" stroke="#545454" stroke-width="4.40"/>
<rect x="463.25" y="3789.25" width="74.50" height="438.50" fill="#a4a3a8" stroke="#5d5d61" stroke-width="4.50"/>
<rect x="623.20" y="4074.70" width="79.00" height="156.10" fill="#000" stroke="#545454" stroke-width="4.40"/>
<rect x="702.25" y="3766.25" width="74.00" height="461.50" fill="#a4a3a8" stroke="#5d5d61" stroke-width="4.50"/>
<rect x="861.20" y="4074.70" width="76.00" height="156.10" fill="#000" stroke="#545454" stroke-width="4.40"/>
<rect x="937.25" y="4066.25" width="77.00" height="161.50" fill="#a4a3a8" stroke="#5d5d61" stroke-width="4.50"/>
<line x1="421.75" y1="4077.00" x2="421.75" y2="4071.00" stroke="#6a6a6a" stroke-width="4.00"/>
<line x1="401.05" y1="4071.00" x2="442.45" y2="4071.00" stroke="#a4a4a4" stroke-width="6.00"/>
<line x1="500.50" y1="3789.00" x2="500.50" y2="3771.00" stroke="#6a6a6a" stroke-width="4.00"/>
<line x1="479.80" y1="3771.00" x2="521.20" y2="3771.00" stroke="#a4a4a4" stroke-width="6.00"/>
<line x1="660.50" y1="4074.50" x2="660.50" y2="4064.00" stroke="#6a6a6a" stroke-width="4.00"/>
<line x1="639.80" y1="4064.00" x2="681.20" y2="4064.00" stroke="#a4a4a4" stroke-width="6.00"/>
<line x1="739.25" y1="3766.00" x2="739.25" y2="3756.00" stroke="#6a6a6a" stroke-width="4.00"/>
<line x1="718.55" y1="3756.00" x2="759.95" y2="3756.00" stroke="#a4a4a4" stroke-width="6.00"/>
<line x1="897.00" y1="4074.50" x2="897.00" y2="4068.00" stroke="#6a6a6a" stroke-width="4.00"/>
<line x1="876.30" y1="4068.00" x2="917.70" y2="4068.00" stroke="#a4a4a4" stroke-width="6.00"/>
<line x1="975.75" y1="4066.00" x2="975.75" y2="4055.00" stroke="#6a6a6a" stroke-width="4.00"/>
<line x1="955.05" y1="4055.00" x2="996.45" y2="4055.00" stroke="#a4a4a4" stroke-width="6.00"/>
<rect x="239.00" y="4229.00" width="900.40" height="4.80" fill="#7a7a7a"/>
<line x1="239.00" y1="3483.50" x2="262.50" y2="3483.50" stroke="#8a8a8a" stroke-width="5.00"/>
<line x1="239.00" y1="3734.00" x2="262.50" y2="3734.00" stroke="#8a8a8a" stroke-width="5.00"/>
<line x1="239.00" y1="3982.50" x2="262.50" y2="3982.50" stroke="#8a8a8a" stroke-width="5.00"/>
<line x1="239.00" y1="4230.00" x2="262.50" y2="4230.00" stroke="#8a8a8a" stroke-width="5.00"/>
<line x1="461.00" y1="4230.00" x2="461.00" y2="4252.00" stroke="#787878" stroke-width="4.20"/>
<line x1="700.00" y1="4230.00" x2="700.00" y2="4252.00" stroke="#787878" stroke-width="4.20"/>
<line x1="935.00" y1="4230.00" x2="935.00" y2="4252.00" stroke="#787878" stroke-width="4.20"/>
<text x="121.96" y="3503.22" font-size="66.00" fill="#151515">300</text>
<text x="121.96" y="3753.72" font-size="66.00" fill="#151515">200</text>
<text x="121.96" y="4001.72" font-size="66.00" fill="#151515">100</text>
<text x="195.37" y="4250.97" font-size="66.00" fill="#151515">0</text>
<text x="395.88" y="4318.59" font-size="66.00" fill="#151515">0.5h</text>
<text x="660.78" y="4318.91" font-size="66.00" fill="#151515">2h</text>
<text x="897.51" y="4318.59" font-size="66.00" fill="#151515">6h</text>
<text x="482.70" y="3763.22" font-size="58.00" fill="#151515" stroke="#151515" stroke-width="1.4">*</text>
<text x="728.70" y="3738.47" font-size="58.00" fill="#151515" stroke="#151515" stroke-width="1.4">*</text>
<rect x="808.50" y="3441.00" width="63.00" height="29.00" fill="#000"/>
<rect x="810.50" y="3505.50" width="60.00" height="27.50" fill="#a4a3a8" stroke="#6a6a6a" stroke-width="4.00"/>
<text x="907.78" y="3473.01" font-size="49.00" fill="#262626" textLength="147.39" lengthAdjust="spacingAndGlyphs">Vehicle</text>
<text x="907.98" y="3536.87" font-size="49.00" fill="#262626" textLength="105.02" lengthAdjust="spacingAndGlyphs">DON</text>
<text transform="translate(86.00 4001.87) rotate(-90)" x="0" y="0" font-size="63.08" fill="#1a1a1a" textLength="183.65" lengthAdjust="spacing">GLP-1</text>
<text transform="translate(86.00 3758.97) rotate(-90)" x="0" y="0" font-size="63.08" fill="#1a1a1a" textLength="163.29" lengthAdjust="spacing">pg/ml</text>
<text transform="translate(84.82 3825.96) rotate(-90)" x="0" y="0" font-family="'Liberation Sans', 'Noto Sans CJK SC', sans-serif" font-size="53.99" fill="#1a1a1a" textLength="67.57" lengthAdjust="spacingAndGlyphs">（</text>
<text transform="translate(84.82 3594.61) rotate(-90)" x="0" y="0" font-family="'Liberation Sans', 'Noto Sans CJK SC', sans-serif" font-size="53.99" fill="#1a1a1a" textLength="67.57" lengthAdjust="spacingAndGlyphs">）</text>
<rect x="1383.00" y="3354.90" width="878.70" height="4.00" fill="#c0c0c0"/>
<rect x="1383.00" y="3358.90" width="878.70" height="4.90" fill="#a0a0a0"/>
<rect x="1366.00" y="4224.40" width="895.70" height="4.60" fill="#f0f0f0"/>
<rect x="1366.00" y="4229.00" width="895.70" height="4.80" fill="#787878"/>
<rect x="1383.00" y="3354.90" width="4.10" height="878.90" fill="#8c8c8c"/>
<rect x="1387.10" y="3354.90" width="4.60" height="878.90" fill="#d0d0d0"/>
<rect x="2257.10" y="3354.90" width="4.60" height="878.90" fill="#777777"/>
<rect x="1508.20" y="4018.20" width="79.00" height="212.60" fill="#000" stroke="#545454" stroke-width="4.40"/>
<rect x="1587.25" y="3712.25" width="73.00" height="515.50" fill="#a4a3a8" stroke="#5d5d61" stroke-width="4.50"/>
<rect x="1746.20" y="4031.70" width="78.00" height="199.10" fill="#000" stroke="#545454" stroke-width="4.40"/>
<rect x="1824.25" y="3782.25" width="74.50" height="445.50" fill="#a4a3a8" stroke="#5d5d61" stroke-width="4.50"/>
<rect x="1983.70" y="4046.20" width="81.00" height="184.60" fill="#000" stroke="#545454" stroke-width="4.40"/>
<rect x="2064.75" y="4006.25" width="72.00" height="221.50" fill="#a4a3a8" stroke="#5d5d61" stroke-width="4.50"/>
<line x1="1545.50" y1="4018.00" x2="1545.50" y2="4005.00" stroke="#6a6a6a" stroke-width="4.00"/>
<line x1="1524.80" y1="4005.00" x2="1566.20" y2="4005.00" stroke="#a4a4a4" stroke-width="6.00"/>
<line x1="1623.75" y1="3712.00" x2="1623.75" y2="3693.50" stroke="#6a6a6a" stroke-width="4.00"/>
<line x1="1603.05" y1="3693.50" x2="1644.45" y2="3693.50" stroke="#a4a4a4" stroke-width="6.00"/>
<line x1="1783.00" y1="4031.50" x2="1783.00" y2="4022.50" stroke="#6a6a6a" stroke-width="4.00"/>
<line x1="1762.30" y1="4022.50" x2="1803.70" y2="4022.50" stroke="#a4a4a4" stroke-width="6.00"/>
<line x1="1861.50" y1="3782.00" x2="1861.50" y2="3757.50" stroke="#6a6a6a" stroke-width="4.00"/>
<line x1="1840.80" y1="3757.50" x2="1882.20" y2="3757.50" stroke="#a4a4a4" stroke-width="6.00"/>
<line x1="2022.00" y1="4046.00" x2="2022.00" y2="4037.50" stroke="#6a6a6a" stroke-width="4.00"/>
<line x1="2001.30" y1="4037.50" x2="2042.70" y2="4037.50" stroke="#a4a4a4" stroke-width="6.00"/>
<line x1="2100.75" y1="4006.00" x2="2100.75" y2="3993.50" stroke="#6a6a6a" stroke-width="4.00"/>
<line x1="2080.05" y1="3993.50" x2="2121.45" y2="3993.50" stroke="#a4a4a4" stroke-width="6.00"/>
<rect x="1366.00" y="4229.00" width="895.70" height="4.80" fill="#787878"/>
<line x1="1366.00" y1="3561.00" x2="1387.00" y2="3561.00" stroke="#8a8a8a" stroke-width="5.00"/>
<line x1="1366.00" y1="3898.50" x2="1387.00" y2="3898.50" stroke="#8a8a8a" stroke-width="5.00"/>
<line x1="1366.00" y1="4230.00" x2="1387.00" y2="4230.00" stroke="#8a8a8a" stroke-width="5.00"/>
<line x1="1585.00" y1="4230.00" x2="1585.00" y2="4252.00" stroke="#787878" stroke-width="4.20"/>
<line x1="1822.00" y1="4230.00" x2="1822.00" y2="4252.00" stroke="#787878" stroke-width="4.20"/>
<line x1="2062.50" y1="4230.00" x2="2062.50" y2="4252.00" stroke="#787878" stroke-width="4.20"/>
<text x="1245.96" y="3582.22" font-size="66.00" fill="#151515">100</text>
<text x="1282.67" y="3916.22" font-size="66.00" fill="#151515">50</text>
<text x="1319.37" y="4250.22" font-size="66.00" fill="#151515">0</text>
<text x="1519.88" y="4318.59" font-size="66.00" fill="#151515">0.5h</text>
<text x="1784.28" y="4318.91" font-size="66.00" fill="#151515">2h</text>
<text x="2022.76" y="4318.59" font-size="66.00" fill="#151515">6h</text>
<text x="1618.70" y="3691.72" font-size="58.00" fill="#151515" stroke="#151515" stroke-width="1.4">*</text>
<text x="1854.70" y="3758.97" font-size="58.00" fill="#151515" stroke="#151515" stroke-width="1.4">*</text>
<rect x="1923.50" y="3441.00" width="62.00" height="29.00" fill="#000"/>
<rect x="1927.00" y="3505.50" width="60.00" height="29.00" fill="#a4a3a8" stroke="#6a6a6a" stroke-width="4.00"/>
<text x="2023.28" y="3473.01" font-size="49.00" fill="#262626" textLength="145.89" lengthAdjust="spacingAndGlyphs">Vehicle</text>
<text x="2021.98" y="3536.87" font-size="49.00" fill="#262626" textLength="106.02" lengthAdjust="spacingAndGlyphs">DON</text>
<text transform="translate(1208.60 3952.50) rotate(-90)" x="0" y="0" font-size="63.66" fill="#1a1a1a" textLength="113.36" lengthAdjust="spacing">GIP</text>
<text transform="translate(1208.60 3806.60) rotate(-90)" x="0" y="0" font-size="63.66" fill="#1a1a1a" textLength="164.66" lengthAdjust="spacing">pg/ml</text>
<text transform="translate(1207.38 3864.51) rotate(-90)" x="0" y="0" font-family="'Liberation Sans', 'Noto Sans CJK SC', sans-serif" font-size="54.41" fill="#1a1a1a" textLength="55.98" lengthAdjust="spacingAndGlyphs">（</text>
<text transform="translate(1207.38 3639.71) rotate(-90)" x="0" y="0" font-family="'Liberation Sans', 'Noto Sans CJK SC', sans-serif" font-size="54.41" fill="#1a1a1a" textLength="61.00" lengthAdjust="spacingAndGlyphs">）</text>
<text x="66.24" y="179.50" font-size="130.81" fill="#000" font-weight="bold" textLength="88.21" lengthAdjust="spacingAndGlyphs" stroke="#000" stroke-width="3" stroke-linejoin="round">A</text>
<text x="57.20" y="2386.50" font-size="131.54" fill="#000" font-weight="bold" textLength="89.77" lengthAdjust="spacingAndGlyphs" stroke="#000" stroke-width="3" stroke-linejoin="round">B</text>
</g>
</svg>
</body></html>
